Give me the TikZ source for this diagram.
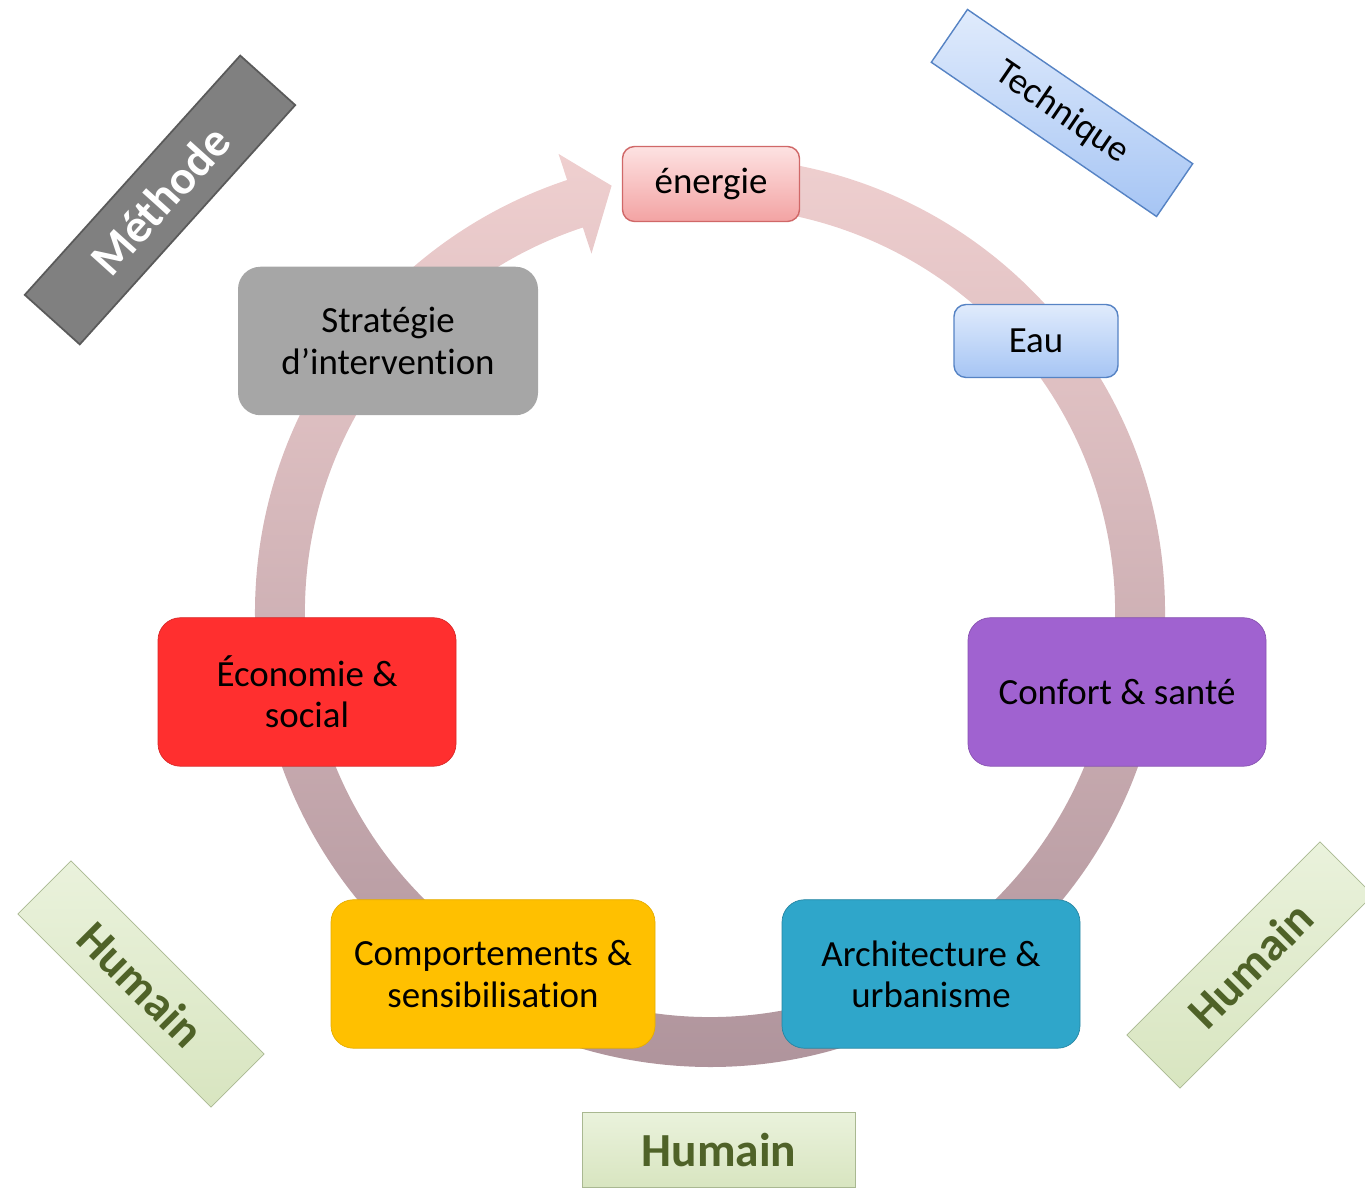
\documentclass[tikz,border=0pt]{standalone}
\usepackage{fontspec}
\setmainfont{Carlito}[Ligatures=NoCommon]
\definecolor{ringtop}{HTML}{EFCFCF}
\definecolor{ringbot}{HTML}{AE939B}
\definecolor{pinktop}{HTML}{FDE2E2}
\definecolor{pinkbot}{HTML}{F3A3A3}
\definecolor{pinkedge}{HTML}{D06868}
\definecolor{bluetop}{HTML}{E0EBFC}
\definecolor{bluebot}{HTML}{A6C5F4}
\definecolor{blueedge}{HTML}{5683C4}
\definecolor{stratgray}{HTML}{A6A6A6}
\definecolor{ecored}{HTML}{FF2F2F}
\definecolor{confpurple}{HTML}{A062D0}
\definecolor{compyellow}{HTML}{FFC000}
\definecolor{archteal}{HTML}{2FA6CA}
\definecolor{methgray}{HTML}{808080}
\definecolor{humtop}{HTML}{EAF2DC}
\definecolor{humbot}{HTML}{D8E5C0}
\definecolor{humedge}{HTML}{A9B891}
\definecolor{humtext}{HTML}{4F6228}

\begin{document}
\begin{tikzpicture}[
  theme/.style={rounded corners=0.45cm, align=center, inner sep=0pt,
    font=\fontsize{21}{23.5}\selectfont, minimum width=5.96cm, minimum height=2.97cm},
  small/.style={rounded corners=0.24cm, inner sep=0pt,
    font=\fontsize{21}{23.5}\selectfont, minimum height=1.5cm},
  tag/.style={minimum width=5.46cm, minimum height=1.5cm, inner sep=0pt,
    font=\bfseries\fontsize{27}{30}\selectfont}
]
\useasboundingbox (0,0) rectangle (27.3,23.76);

% the ring, ending in its arrow head
\begin{scope}[shift={(14.2,11.52)}]
\shade[top color=ringtop, bottom color=ringbot]
  (85:9.1) arc[start angle=85, end angle=-251.7, radius=9.1]
  -- (108.3:9.65) -- (103:8.75) -- (108.3:7.55) -- (108.3:8.1)
  arc[start angle=108.3, end angle=445, radius=8.1] -- cycle;
\end{scope}

\node[small, minimum width=3.54cm, top color=pinktop, bottom color=pinkbot, draw=pinkedge, line width=0.8pt] (energie) at (14.22, 20.08) {énergie};
\node[small, minimum width=3.28cm, minimum height=1.46cm, top color=bluetop, bottom color=bluebot, draw=blueedge, line width=0.8pt] (eau) at (20.72, 16.94) {Eau};

\node[theme, minimum width=6cm, fill=stratgray] (strategie) at (7.76, 16.94) {Stratégie\\d’intervention};
\node[theme, fill=ecored, draw=ecored!85!black] (economie) at (6.14, 9.92) {Économie \&\\social};
\node[theme, fill=confpurple, draw=confpurple!85!black] (confort) at (22.34, 9.92) {Confort \& santé};
\node[theme, minimum width=6.48cm, fill=compyellow, draw=compyellow!90!black] (comportements) at (9.86, 4.28) {Comportements \&\\sensibilisation};
\node[theme, fill=archteal, draw=archteal!80!black] (architecture) at (18.62, 4.28) {Architecture \&\\urbanisme};

% the labels round the ring
\node[tag, minimum width=6.44cm, minimum height=1.48cm, rotate=48, fill=methgray, draw=methgray!70!black, line width=1pt, text=white] (methode) at (3.2, 19.76) {Méthode};
\node[tag, minimum height=1.28cm, rotate=-34.4, top color=bluetop, bottom color=bluebot, draw=blueedge, line width=0.8pt, font=\fontsize{21}{24}\selectfont] (technique) at (21.24, 21.5) {Technique};
\node[tag, rotate=-45, top color=humtop, bottom color=humbot, draw=humedge, text=humtext] (humainL) at (2.82, 4.08) {Humain};
\node[tag, top color=humtop, bottom color=humbot, draw=humedge, text=humtext] (humainB) at (14.38, 0.76) {Humain};
\node[tag, rotate=45, top color=humtop, bottom color=humbot, draw=humedge, text=humtext] (humainR) at (25.0, 4.46) {Humain};

\end{tikzpicture}
\end{document}
